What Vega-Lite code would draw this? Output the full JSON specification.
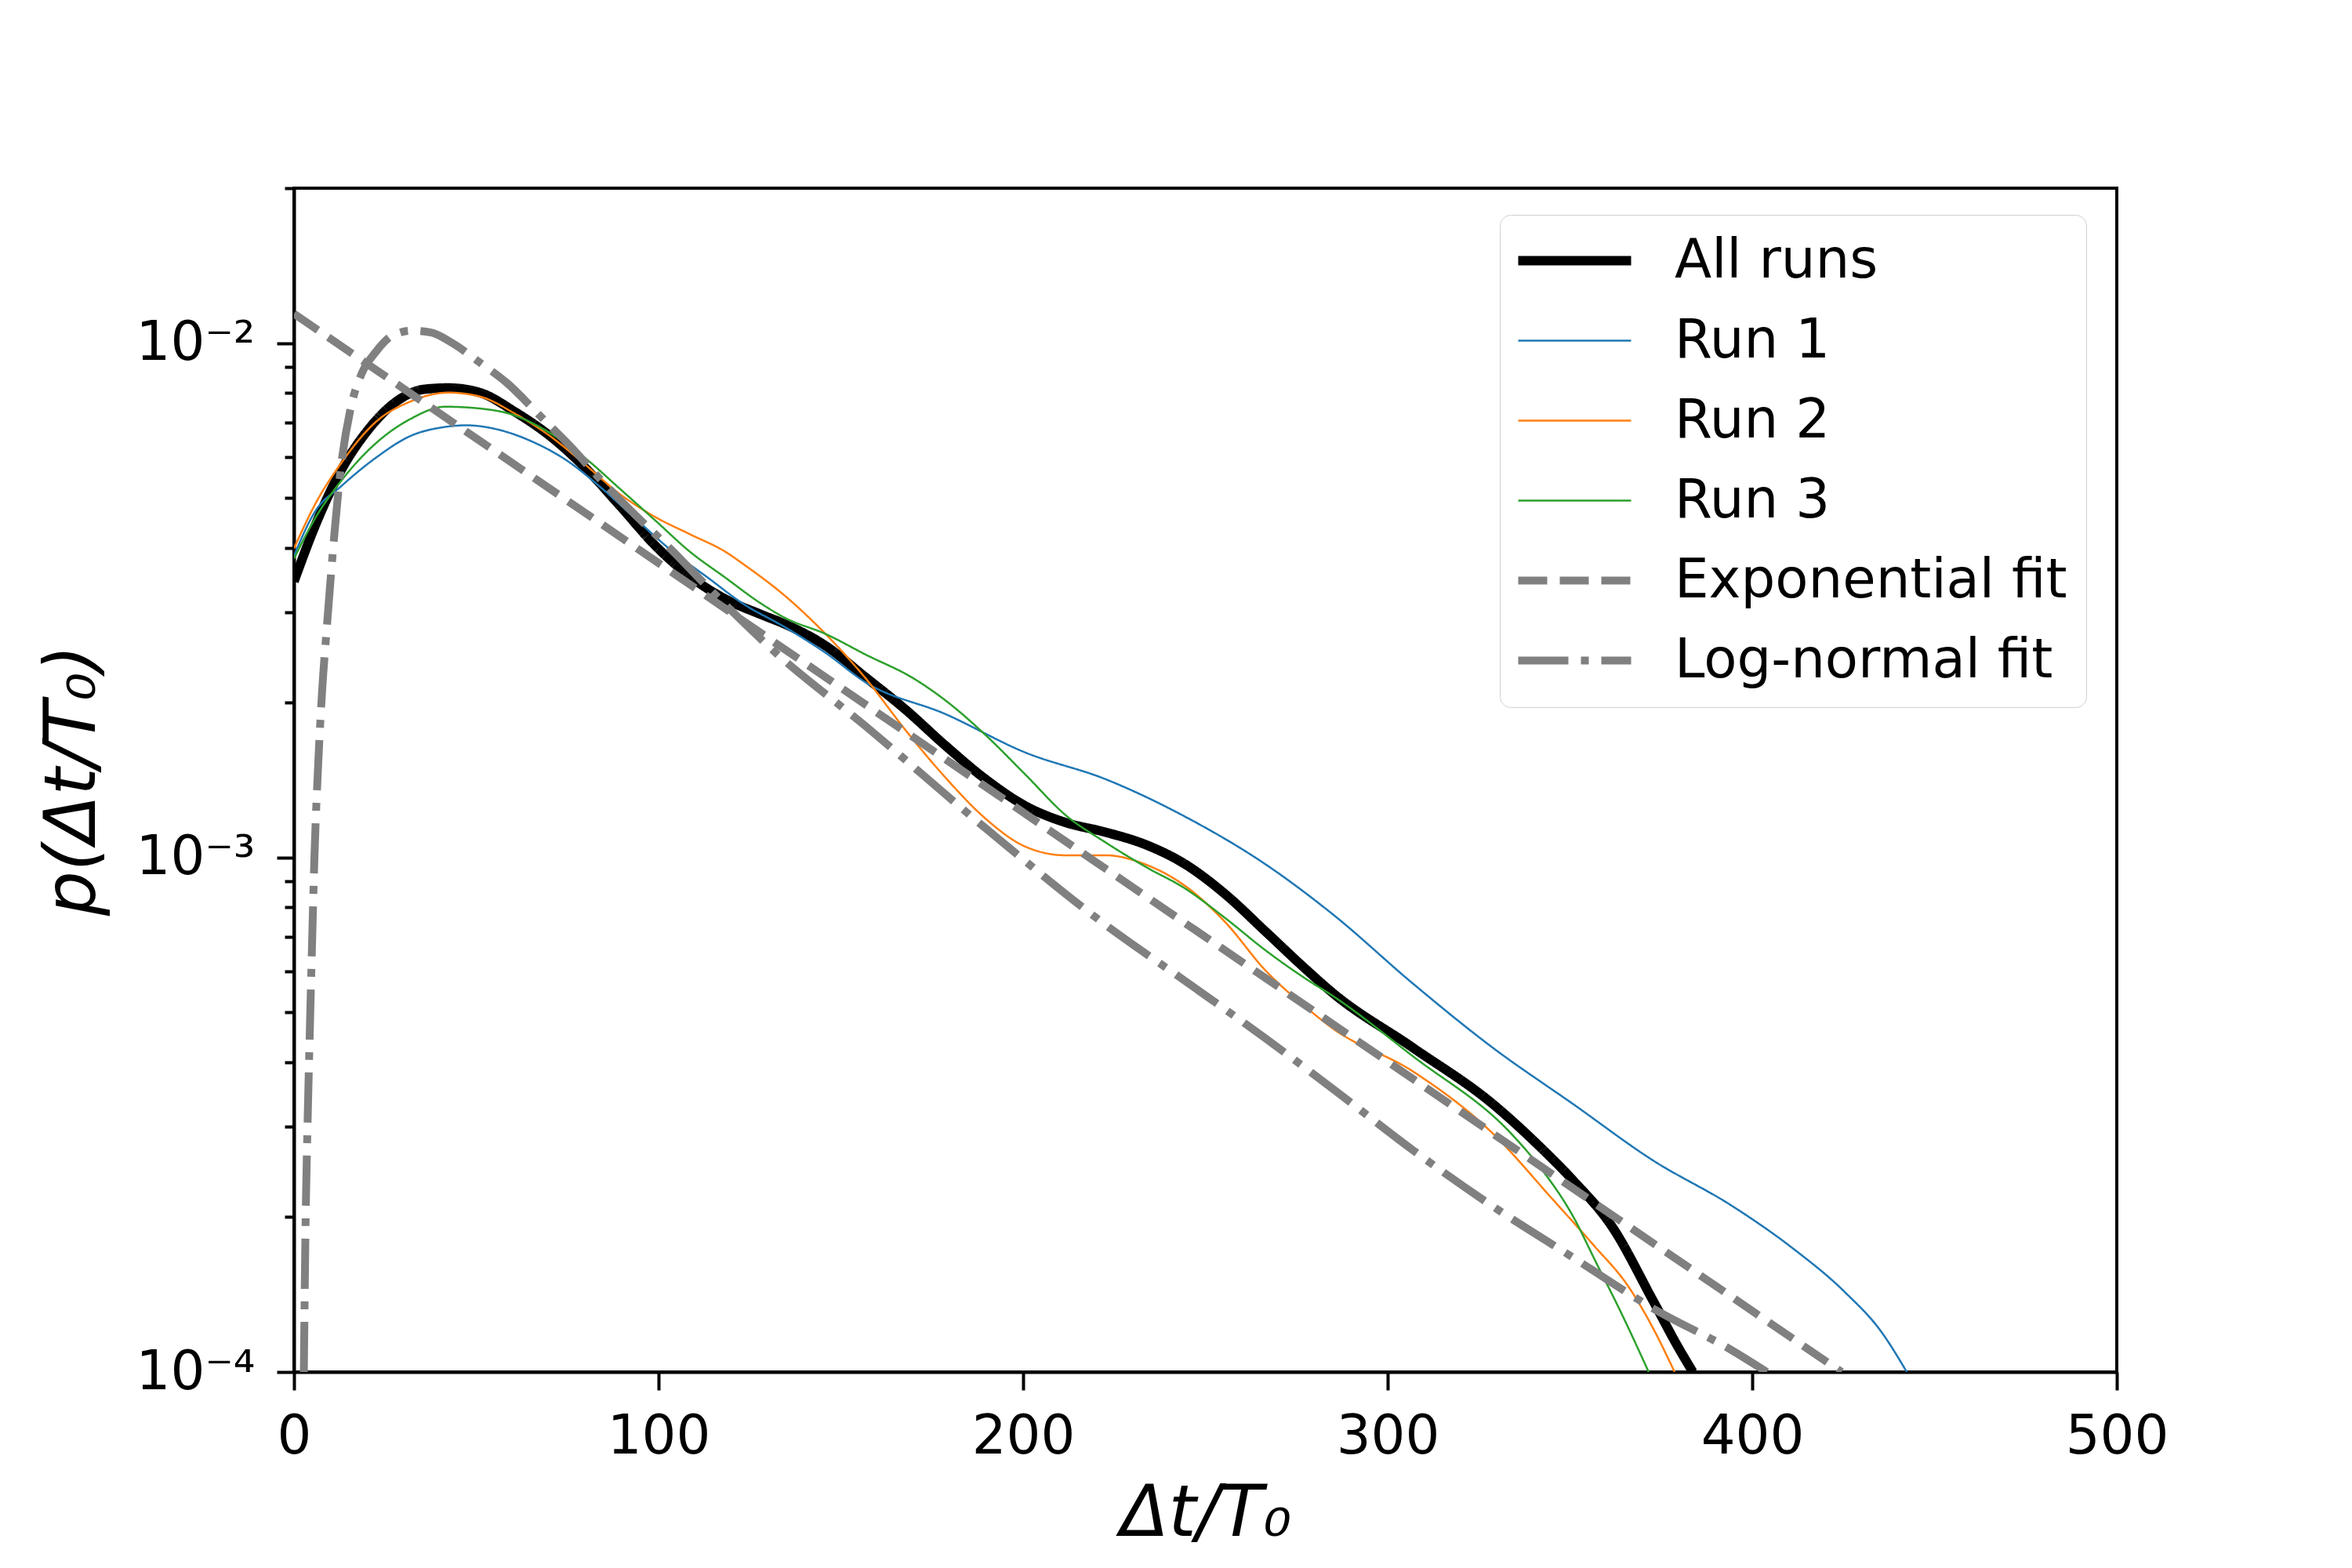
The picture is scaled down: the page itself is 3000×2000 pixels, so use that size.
{
  "$schema": "https://vega.github.io/schema/vega-lite/v6.json",
  "width": 2325,
  "height": 1510,
  "autosize": "none",
  "padding": {"left": 375, "top": 240, "right": 300, "bottom": 250},
  "background": "white",
  "config": {
    "font": "DejaVu Sans",
    "view": {"stroke": "black", "strokeWidth": 4},
    "axis": {
      "grid": false,
      "domainColor": "black",
      "domainWidth": 4,
      "tickColor": "black",
      "tickWidth": 4,
      "labelColor": "black",
      "labelFont": "DejaVu Sans",
      "labelFontSize": 69,
      "titleFont": "DejaVu Sans",
      "titleFontSize": 90,
      "titleFontWeight": "normal",
      "titleFontStyle": "italic",
      "titleColor": "black"
    }
  },
  "data": {
    "values": [
      {"s": "All runs", "t": 0, "p": 0.00344},
      {"s": "All runs", "t": 6, "p": 0.00445},
      {"s": "All runs", "t": 12.7, "p": 0.00562},
      {"s": "All runs", "t": 20.4, "p": 0.00679},
      {"s": "All runs", "t": 28, "p": 0.00769},
      {"s": "All runs", "t": 35.7, "p": 0.00813},
      {"s": "All runs", "t": 42.4, "p": 0.00818},
      {"s": "All runs", "t": 51, "p": 0.00801},
      {"s": "All runs", "t": 60.6, "p": 0.00735},
      {"s": "All runs", "t": 70.3, "p": 0.00659},
      {"s": "All runs", "t": 79.8, "p": 0.00573},
      {"s": "All runs", "t": 89.5, "p": 0.00482},
      {"s": "All runs", "t": 99.1, "p": 0.00404},
      {"s": "All runs", "t": 108.6, "p": 0.00352},
      {"s": "All runs", "t": 118.3, "p": 0.00318},
      {"s": "All runs", "t": 128, "p": 0.00297},
      {"s": "All runs", "t": 134.8, "p": 0.00284},
      {"s": "All runs", "t": 145.8, "p": 0.00258},
      {"s": "All runs", "t": 156.8, "p": 0.00224},
      {"s": "All runs", "t": 167.7, "p": 0.00194},
      {"s": "All runs", "t": 178.7, "p": 0.00165},
      {"s": "All runs", "t": 189.7, "p": 0.00142},
      {"s": "All runs", "t": 200.6, "p": 0.00126},
      {"s": "All runs", "t": 211.6, "p": 0.00117},
      {"s": "All runs", "t": 222.6, "p": 0.00112},
      {"s": "All runs", "t": 233.5, "p": 0.00106},
      {"s": "All runs", "t": 244.5, "p": 0.00097},
      {"s": "All runs", "t": 255.5, "p": 0.000848},
      {"s": "All runs", "t": 266.5, "p": 0.000718},
      {"s": "All runs", "t": 277.4, "p": 0.000608},
      {"s": "All runs", "t": 285, "p": 0.000545},
      {"s": "All runs", "t": 306.9, "p": 0.000427},
      {"s": "All runs", "t": 328.8, "p": 0.000332},
      {"s": "All runs", "t": 342, "p": 0.000273},
      {"s": "All runs", "t": 350.8, "p": 0.000236},
      {"s": "All runs", "t": 361.7, "p": 0.000191},
      {"s": "All runs", "t": 372.7, "p": 0.000138},
      {"s": "All runs", "t": 379.3, "p": 0.000113},
      {"s": "All runs", "t": 383.7, "p": 0.0001},

      {"s": "Run 1", "t": 0, "p": 0.00386},
      {"s": "Run 1", "t": 6, "p": 0.00473},
      {"s": "Run 1", "t": 12.7, "p": 0.00525},
      {"s": "Run 1", "t": 22.4, "p": 0.00598},
      {"s": "Run 1", "t": 31.8, "p": 0.00659},
      {"s": "Run 1", "t": 41.5, "p": 0.00687},
      {"s": "Run 1", "t": 47.3, "p": 0.00692},
      {"s": "Run 1", "t": 55.9, "p": 0.00679},
      {"s": "Run 1", "t": 65.4, "p": 0.00643},
      {"s": "Run 1", "t": 75, "p": 0.0059},
      {"s": "Run 1", "t": 84.7, "p": 0.0052},
      {"s": "Run 1", "t": 94.2, "p": 0.00452},
      {"s": "Run 1", "t": 103.9, "p": 0.00393},
      {"s": "Run 1", "t": 113.5, "p": 0.0035},
      {"s": "Run 1", "t": 123, "p": 0.00312},
      {"s": "Run 1", "t": 134.8, "p": 0.0028},
      {"s": "Run 1", "t": 145.8, "p": 0.0025},
      {"s": "Run 1", "t": 156.8, "p": 0.00219},
      {"s": "Run 1", "t": 178.7, "p": 0.0019},
      {"s": "Run 1", "t": 200.6, "p": 0.0016},
      {"s": "Run 1", "t": 222.6, "p": 0.00142},
      {"s": "Run 1", "t": 244.5, "p": 0.0012},
      {"s": "Run 1", "t": 266.5, "p": 0.00097},
      {"s": "Run 1", "t": 285, "p": 0.000775},
      {"s": "Run 1", "t": 306.9, "p": 0.000569},
      {"s": "Run 1", "t": 328.8, "p": 0.000427},
      {"s": "Run 1", "t": 350.8, "p": 0.000332},
      {"s": "Run 1", "t": 372.7, "p": 0.000258},
      {"s": "Run 1", "t": 394.6, "p": 0.00021},
      {"s": "Run 1", "t": 411.1, "p": 0.000174},
      {"s": "Run 1", "t": 425.4, "p": 0.000143},
      {"s": "Run 1", "t": 435.3, "p": 0.00012},
      {"s": "Run 1", "t": 442.4, "p": 0.0001},

      {"s": "Run 2", "t": 0, "p": 0.00399},
      {"s": "Run 2", "t": 6, "p": 0.00489},
      {"s": "Run 2", "t": 12.7, "p": 0.00581},
      {"s": "Run 2", "t": 22.4, "p": 0.00702},
      {"s": "Run 2", "t": 31.8, "p": 0.00769},
      {"s": "Run 2", "t": 42.4, "p": 0.00801},
      {"s": "Run 2", "t": 51, "p": 0.00787},
      {"s": "Run 2", "t": 60.6, "p": 0.00729},
      {"s": "Run 2", "t": 70.3, "p": 0.00659},
      {"s": "Run 2", "t": 79.8, "p": 0.00581},
      {"s": "Run 2", "t": 89.5, "p": 0.00508},
      {"s": "Run 2", "t": 99.1, "p": 0.00459},
      {"s": "Run 2", "t": 108.6, "p": 0.00425},
      {"s": "Run 2", "t": 118.3, "p": 0.00393},
      {"s": "Run 2", "t": 123.9, "p": 0.00369},
      {"s": "Run 2", "t": 134.8, "p": 0.00322},
      {"s": "Run 2", "t": 145.8, "p": 0.00272},
      {"s": "Run 2", "t": 156.8, "p": 0.00223},
      {"s": "Run 2", "t": 167.7, "p": 0.00177},
      {"s": "Run 2", "t": 178.7, "p": 0.00143},
      {"s": "Run 2", "t": 189.7, "p": 0.00119},
      {"s": "Run 2", "t": 200.6, "p": 0.00105},
      {"s": "Run 2", "t": 211.6, "p": 0.00101},
      {"s": "Run 2", "t": 222.6, "p": 0.00101},
      {"s": "Run 2", "t": 233.5, "p": 0.00097},
      {"s": "Run 2", "t": 244.5, "p": 0.00088},
      {"s": "Run 2", "t": 255.5, "p": 0.000748},
      {"s": "Run 2", "t": 266.5, "p": 0.000603},
      {"s": "Run 2", "t": 277.4, "p": 0.000513},
      {"s": "Run 2", "t": 285, "p": 0.000465},
      {"s": "Run 2", "t": 306.9, "p": 0.000384},
      {"s": "Run 2", "t": 328.8, "p": 0.000291},
      {"s": "Run 2", "t": 345.4, "p": 0.000216},
      {"s": "Run 2", "t": 356.3, "p": 0.000177},
      {"s": "Run 2", "t": 366.2, "p": 0.000146},
      {"s": "Run 2", "t": 372.7, "p": 0.000122},
      {"s": "Run 2", "t": 378.7, "p": 0.0001},

      {"s": "Run 3", "t": 0, "p": 0.00381},
      {"s": "Run 3", "t": 6, "p": 0.00459},
      {"s": "Run 3", "t": 12.7, "p": 0.00537},
      {"s": "Run 3", "t": 22.4, "p": 0.00638},
      {"s": "Run 3", "t": 31.8, "p": 0.00711},
      {"s": "Run 3", "t": 41.5, "p": 0.00752},
      {"s": "Run 3", "t": 51, "p": 0.00746},
      {"s": "Run 3", "t": 60.6, "p": 0.00723},
      {"s": "Run 3", "t": 70.3, "p": 0.00668},
      {"s": "Run 3", "t": 79.8, "p": 0.00598},
      {"s": "Run 3", "t": 89.5, "p": 0.0052},
      {"s": "Run 3", "t": 99.1, "p": 0.00452},
      {"s": "Run 3", "t": 108.6, "p": 0.00393},
      {"s": "Run 3", "t": 118.3, "p": 0.0035},
      {"s": "Run 3", "t": 128, "p": 0.00312},
      {"s": "Run 3", "t": 134.8, "p": 0.00292},
      {"s": "Run 3", "t": 145.8, "p": 0.00272},
      {"s": "Run 3", "t": 156.8, "p": 0.00248},
      {"s": "Run 3", "t": 169.9, "p": 0.00223},
      {"s": "Run 3", "t": 178.7, "p": 0.00202},
      {"s": "Run 3", "t": 189.7, "p": 0.00173},
      {"s": "Run 3", "t": 200.6, "p": 0.00145},
      {"s": "Run 3", "t": 211.6, "p": 0.00121},
      {"s": "Run 3", "t": 222.6, "p": 0.00107},
      {"s": "Run 3", "t": 233.5, "p": 0.00096},
      {"s": "Run 3", "t": 244.5, "p": 0.00087},
      {"s": "Run 3", "t": 255.5, "p": 0.000762},
      {"s": "Run 3", "t": 266.5, "p": 0.00066},
      {"s": "Run 3", "t": 277.4, "p": 0.000582},
      {"s": "Run 3", "t": 285, "p": 0.000538},
      {"s": "Run 3", "t": 306.9, "p": 0.000411},
      {"s": "Run 3", "t": 334.4, "p": 0.000288},
      {"s": "Run 3", "t": 342, "p": 0.000249},
      {"s": "Run 3", "t": 350.8, "p": 0.000201},
      {"s": "Run 3", "t": 357.4, "p": 0.000162},
      {"s": "Run 3", "t": 363.9, "p": 0.000131},
      {"s": "Run 3", "t": 371.6, "p": 0.0001},

      {"s": "Exponential fit", "t": 0, "p": 0.0114},
      {"s": "Exponential fit", "t": 424.5, "p": 0.0001},

      {"s": "Log-normal fit", "t": 2.7, "p": 0.0001},
      {"s": "Log-normal fit", "t": 3.2, "p": 0.0002},
      {"s": "Log-normal fit", "t": 3.7, "p": 0.0003},
      {"s": "Log-normal fit", "t": 4.3, "p": 0.00045},
      {"s": "Log-normal fit", "t": 5.0, "p": 0.0007},
      {"s": "Log-normal fit", "t": 5.6, "p": 0.001},
      {"s": "Log-normal fit", "t": 6.6, "p": 0.0015},
      {"s": "Log-normal fit", "t": 7.7, "p": 0.0021},
      {"s": "Log-normal fit", "t": 9.0, "p": 0.0028},
      {"s": "Log-normal fit", "t": 11.2, "p": 0.00435},
      {"s": "Log-normal fit", "t": 12.7, "p": 0.0056},
      {"s": "Log-normal fit", "t": 15.5, "p": 0.00745},
      {"s": "Log-normal fit", "t": 18.5, "p": 0.0087},
      {"s": "Log-normal fit", "t": 22.4, "p": 0.0096},
      {"s": "Log-normal fit", "t": 27.1, "p": 0.01035},
      {"s": "Log-normal fit", "t": 32.3, "p": 0.01057},
      {"s": "Log-normal fit", "t": 37.6, "p": 0.01048},
      {"s": "Log-normal fit", "t": 43.4, "p": 0.01},
      {"s": "Log-normal fit", "t": 51, "p": 0.00916},
      {"s": "Log-normal fit", "t": 58.7, "p": 0.00833},
      {"s": "Log-normal fit", "t": 67.3, "p": 0.00724},
      {"s": "Log-normal fit", "t": 76.1, "p": 0.00627},
      {"s": "Log-normal fit", "t": 84.7, "p": 0.00537},
      {"s": "Log-normal fit", "t": 94.2, "p": 0.00459},
      {"s": "Log-normal fit", "t": 103.9, "p": 0.00394},
      {"s": "Log-normal fit", "t": 112.5, "p": 0.00341},
      {"s": "Log-normal fit", "t": 121, "p": 0.00297},
      {"s": "Log-normal fit", "t": 131.6, "p": 0.00252},
      {"s": "Log-normal fit", "t": 156.8, "p": 0.0018},
      {"s": "Log-normal fit", "t": 189.7, "p": 0.00114},
      {"s": "Log-normal fit", "t": 222.6, "p": 0.00074},
      {"s": "Log-normal fit", "t": 244.5, "p": 0.000575},
      {"s": "Log-normal fit", "t": 266.5, "p": 0.000445},
      {"s": "Log-normal fit", "t": 285, "p": 0.000355},
      {"s": "Log-normal fit", "t": 306.9, "p": 0.00027},
      {"s": "Log-normal fit", "t": 328.8, "p": 0.00021},
      {"s": "Log-normal fit", "t": 350.8, "p": 0.000167},
      {"s": "Log-normal fit", "t": 372.7, "p": 0.000133},
      {"s": "Log-normal fit", "t": 394.6, "p": 0.00011},
      {"s": "Log-normal fit", "t": 404, "p": 0.0001}
    ]
  },
  "encoding": {
    "x": {
      "field": "t",
      "type": "quantitative",
      "scale": {"domain": [0, 500], "nice": false, "zero": false},
      "axis": {
        "values": [0, 100, 200, 300, 400, 500],
        "tickSize": 23,
        "labelPadding": 25,
        "labelFlush": false,
        "title": "Δt/T₀",
        "titlePadding": 20
      }
    }
  },
  "layer": [
    {
      "mark": {"type": "line", "interpolate": "monotone", "clip": true, "strokeCap": "butt"},
      "encoding": {
        "y": {
          "field": "p",
          "type": "quantitative",
          "scale": {"type": "log", "domain": [0.0001, 0.02], "nice": false},
          "axis": {
            "values": [0.0001, 0.001, 0.01],
            "labelExpr": "datum.value == 0.01 ? '10⁻²' : datum.value == 0.001 ? '10⁻³' : '10⁻⁴'",
            "tickSize": 22,
            "labelPadding": 28,
            "title": "p(Δt/T₀)",
            "titlePadding": 36
          }
        },
        "color": {
          "field": "s",
          "type": "nominal",
          "scale": {
            "domain": ["All runs", "Run 1", "Run 2", "Run 3", "Exponential fit", "Log-normal fit"],
            "range": ["black", "#1f77b4", "#ff7f0e", "#2ca02c", "gray", "gray"]
          },
          "legend": {
            "title": null,
            "orient": "none",
            "legendX": 1538,
            "legendY": 34,
            "fillColor": "white",
            "strokeColor": "#d0d0d0",
            "cornerRadius": 14,
            "padding": 24,
            "labelFont": "DejaVu Sans",
            "labelFontSize": 69,
            "labelColor": "black",
            "labelLimit": 1000,
            "symbolType": "M-4,0H4",
            "symbolSize": 1296,
            "symbolOffset": 37,
            "labelOffset": 93,
            "rowPadding": 32,
            "encoding": {"legend": {"update": {"strokeWidth": {"value": 5}}}}
          }
        },
        "strokeDash": {
          "field": "s",
          "type": "nominal",
          "scale": {
            "type": "ordinal",
            "domain": ["All runs", "Run 1", "Run 2", "Run 3", "Exponential fit", "Log-normal fit"],
            "range": [[1, 0], [1, 0], [1, 0], [1, 0], [37, 16], [64, 16, 10, 16]]
          }
        },
        "strokeWidth": {
          "field": "s",
          "type": "nominal",
          "scale": {
            "type": "ordinal",
            "domain": ["All runs", "Run 1", "Run 2", "Run 3", "Exponential fit", "Log-normal fit"],
            "range": [12, 2.5, 2.5, 2.5, 10, 10]
          }
        }
      }
    },
    {
      "mark": {"type": "line", "opacity": 0},
      "encoding": {
        "y": {
          "field": "p",
          "type": "quantitative",
          "scale": {"type": "log", "domain": [0.0001, 0.02], "nice": false},
          "axis": {
            "orient": "left",
            "values": [0.0002, 0.0003, 0.0004, 0.0005, 0.0006, 0.0007, 0.0008, 0.0009, 0.002, 0.003, 0.004, 0.005, 0.006, 0.007, 0.008, 0.009, 0.02],
            "labels": false,
            "domain": false,
            "tickSize": 12,
            "title": null
          }
        }
      }
    }
  ],
  "resolve": {"axis": {"y": "independent"}}
}
